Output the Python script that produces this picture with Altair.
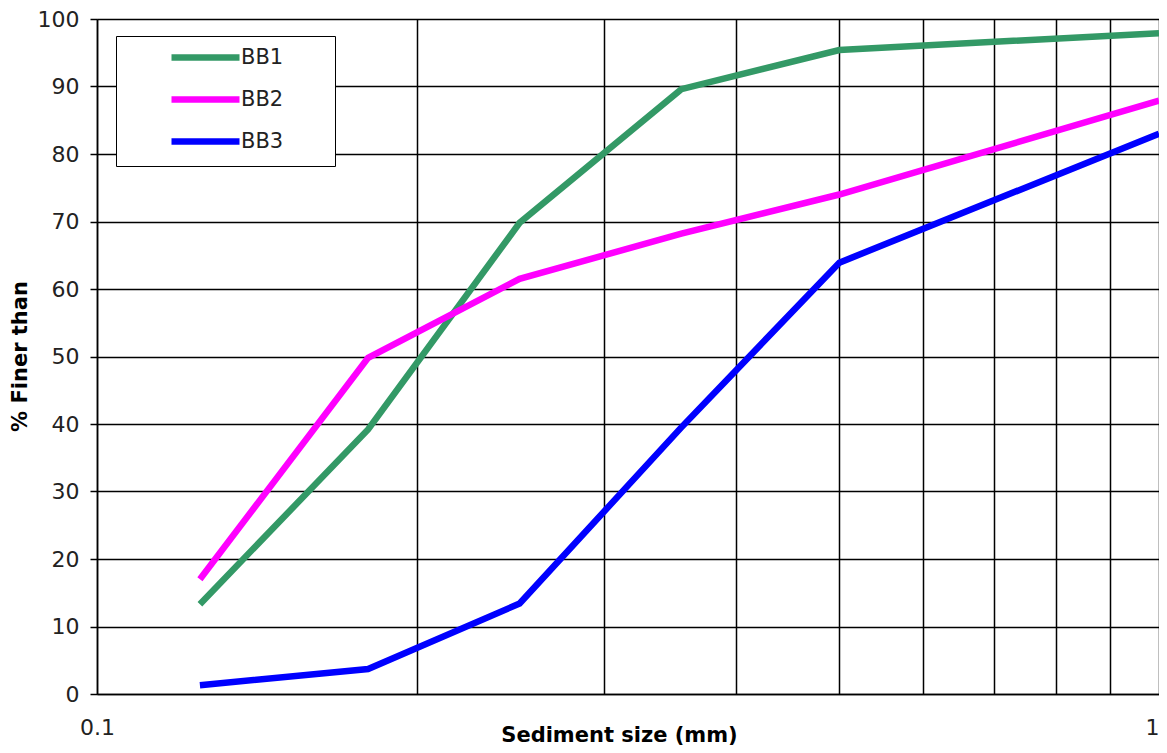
import altair as alt
import pandas as pd

sizes = [0.125, 0.18, 0.25, 0.355, 0.5, 1.0]
bb1 = [13.3, 39.2, 69.8, 89.6, 95.4, 97.9]
bb2 = [17.0, 49.8, 61.5, 68.2, 74.0, 87.9]
bb3 = [1.3, 3.7, 13.4, 39.5, 63.9, 83.0]
series_names = ["BB1", "BB2", "BB3"]
series_colors = ["#339966", "#FF00FF", "#0000FF"]
x_grid_values = [0.1, 0.2, 0.3, 0.4, 0.5, 0.6, 0.7, 0.8, 0.9, 1.0]
y_tick_values = [0, 10, 20, 30, 40, 50, 60, 70, 80, 90, 100]

rows = []
for name, vals in zip(series_names, [bb1, bb2, bb3]):
    for i, (s, v) in enumerate(zip(sizes, vals)):
        rows.append({"series": name, "size": s, "finer": v, "order": i})
df = pd.DataFrame(rows)

FONT = "DejaVu Sans"

chart = alt.Chart(df).mark_line(strokeWidth=6.5, strokeCap="butt", strokeJoin="miter").encode(
    x=alt.X("size:Q",
            scale=alt.Scale(type="log", domain=[0.1, 1.0], nice=False),
            axis=alt.Axis(values=x_grid_values,
                          labelExpr="datum.value == 1 ? '1' : (abs(datum.value - 0.1) < 1e-9 ? '0.1' : '')",
                          labelAlign={"condition": {"test": "datum.value == 1", "value": "right"},
                                      "value": "center"},
                          ticks=False, labelFlush=False, labelOverlap=False,
                          labelPadding=23, labelFontSize=22, labelFont=FONT, labelColor="#222",
                          grid=True, gridColor="#000", gridWidth=1.5, gridOpacity=1,
                          domainColor="#000", domainWidth=1.5,
                          title="Sediment size (mm)", titleFont=FONT, titleFontSize=21,
                          titleFontWeight="bold", titleColor="#000",
                          titleX=522, titleY=47, titleAlign="center", titleBaseline="alphabetic")),
    y=alt.Y("finer:Q",
            scale=alt.Scale(domain=[0, 100], nice=False),
            axis=alt.Axis(values=y_tick_values, tickSize=7, tickColor="#000", tickWidth=1.5,
                          labelPadding=11, labelFontSize=22, labelFont=FONT, labelColor="#222",
                          labelBaseline="middle",
                          grid=True, gridColor="#000", gridWidth=1.5, gridOpacity=1,
                          domainColor="#000", domainWidth=1.5,
                          title="% Finer than", titleFont=FONT, titleFontSize=21,
                          titleFontWeight="bold", titleColor="#000",
                          titleX=-71, titleY=337, titleAlign="center", titleBaseline="alphabetic",
                          titleAngle=-90)),
    color=alt.Color("series:N",
                    scale=alt.Scale(domain=series_names, range=series_colors),
                    legend=alt.Legend(title=None, orient="none", legendX=19, legendY=17,
                                      strokeColor="#000", fillColor="#fff",
                                      padding=11, symbolType="M-6.8,0H6.8", symbolSize=100,
                                      symbolStrokeWidth=6.5, symbolOffset=68, labelOffset=25,
                                      labelFontSize=21, labelFont=FONT, labelColor="#222",
                                      rowPadding=15,
                                      labelExpr="datum.label + '\u00a0\u00a0\u00a0\u00a0\u00a0\u00a0\u200b'")),
    order="order:Q",
).properties(
    width=1062, height=675,
    padding={"left": 89, "top": 11, "right": 0, "bottom": 51},
    autosize=alt.AutoSizeParams(type="none"),
).configure_view(stroke="#000", strokeWidth=1.5).configure_legend(strokeWidth=1.5).configure(background="#fff")

chart.save("out.html", embed_options={"renderer": "svg", "actions": False})
